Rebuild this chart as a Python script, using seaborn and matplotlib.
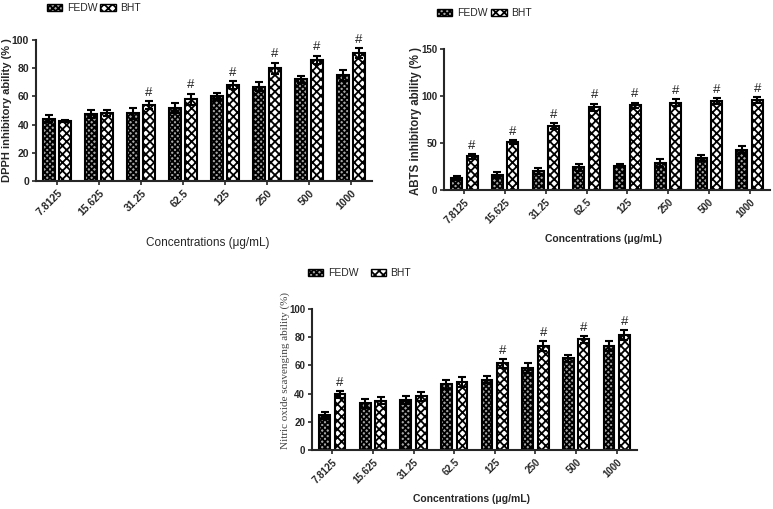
import numpy as np
import pandas as pd
import matplotlib
matplotlib.use("Agg")
import matplotlib.pyplot as plt
import matplotlib.patches as mpatches
import seaborn as sns

sns.set_style("ticks")
plt.rcParams['font.family'] = ['Liberation Sans', 'DejaVu Sans']
plt.rcParams['hatch.linewidth'] = 1.3

concentrations = ["7.8125", "15.625", "31.25", "62.5", "125", "250", "500", "1000"]
groups = ["FEDW", "BHT"]

dpph_fedw = [44, 47.5, 48, 52, 60, 67, 72, 75]
dpph_fedw_err = [2.5, 3, 4, 3.5, 2.5, 3.5, 2.5, 4]
dpph_bht = [42.5, 48, 54, 58, 68, 80, 86, 91]
dpph_bht_err = [1, 2, 3, 4, 3, 4, 3, 3.5]
dpph_sig = [False, False, True, True, True, True, True, True]

abts_fedw = [13, 16, 20, 24, 26, 29, 34, 43]
abts_fedw_err = [2, 3, 3, 4, 2, 4, 3, 4]
abts_bht = [36, 51, 68, 88, 90, 93, 95, 96]
abts_bht_err = [2.5, 2.5, 3, 4, 3, 4, 3, 3]
abts_sig = [True] * 8

no_fedw = [24.5, 33, 35.5, 46.5, 50, 58, 65, 73.5]
no_fedw_err = [2.5, 3, 3, 3.5, 2.5, 3.5, 2.5, 3.5]
no_bht = [39.5, 35, 38, 48.5, 61.5, 74, 78.5, 81.5]
no_bht_err = [2.5, 2.5, 3, 3.5, 3, 3.5, 2.5, 3.5]
no_sig = [True, False, False, False, True, True, True, True]

W, H = 773, 509
fig = plt.figure(figsize=(W / 100, H / 100), dpi=100)


def ax_at(x0, x1, ybottom, ytop):
    return fig.add_axes([x0 / W, 1 - ybottom / H, (x1 - x0) / W, (ybottom - ytop) / H])


styles = {
    "FEDW": dict(facecolor="#a8a8a8", hatch="xxxxxx"),
    "BHT": dict(facecolor="white", hatch="xxxx"),
}


def panel(ax, fedw, fedw_err, bht, bht_err, sig, ymax, yticks, ylabel, ylabel_kw,
          ylabel_xy, xlabel_kw, xlabel_xy, tick_kw, legend_xy, legend_colsp):
    df = pd.DataFrame({
        "conc": concentrations * 2,
        "group": ["FEDW"] * len(concentrations) + ["BHT"] * len(concentrations),
        "value": list(fedw) + list(bht),
    })
    sns.barplot(data=df, x="conc", y="value", hue="group", order=concentrations,
                hue_order=groups, width=0.76, gap=0.3, ax=ax, legend=False,
                edgecolor="black", linewidth=1.5, errorbar=None)
    errs = {"FEDW": fedw_err, "BHT": bht_err}
    for cont, g in zip(ax.containers, groups):
        xs, hs = [], []
        for bar in cont:
            bar.set_facecolor(styles[g]["facecolor"])
            bar.set_hatch(styles[g]["hatch"])
            bar.set_edgecolor("black")
            xs.append(bar.get_x() + bar.get_width() / 2)
            hs.append(bar.get_height())
        ax.errorbar(xs, hs, yerr=errs[g], fmt="none", ecolor="black",
                    elinewidth=1.5, capsize=3, capthick=1.5, zorder=3)
        if g == "BHT":
            for x, h, e, s in zip(xs, hs, errs[g], sig):
                if s:
                    ax.text(x, h + e + ymax * 0.015, "#", ha="center", va="bottom",
                            fontsize=9.5, color="#222222")
    ax.set_xlim(-0.5, len(concentrations) - 0.5)
    ax.set_ylim(0, ymax)
    ax.set_yticks(yticks)
    ax.set_yticklabels([str(t) for t in yticks], fontweight="bold", **tick_kw)
    ax.set_xticks(range(len(concentrations)))
    ax.set_xticklabels(concentrations, rotation=45, ha="right", rotation_mode="anchor",
                       fontweight="bold", **tick_kw)
    ax.set_ylabel(ylabel, **ylabel_kw)
    ax.yaxis.set_label_coords(*ylabel_xy)
    ax.set_xlabel("Concentrations (μg/mL)", **xlabel_kw)
    ax.xaxis.set_label_coords(*xlabel_xy)
    sns.despine(ax=ax)
    for sp in ["left", "bottom"]:
        ax.spines[sp].set_linewidth(1.5)
    ax.tick_params(axis="both", width=1.2, length=3, direction="out", pad=2)
    handles = [mpatches.Patch(facecolor=styles[g]["facecolor"], hatch=styles[g]["hatch"],
                              edgecolor="black", label=g) for g in groups]
    fig.legend(handles=handles, loc="center left",
               bbox_to_anchor=(legend_xy[0] / W, 1 - legend_xy[1] / H),
               ncol=2, frameon=False, fontsize=7.5, handlelength=1.45, handleheight=0.6,
               handletextpad=0.45, columnspacing=legend_colsp, borderaxespad=0,
               borderpad=0)


ax1 = ax_at(36, 372, 181, 40)
panel(ax1, dpph_fedw, dpph_fedw_err, dpph_bht, dpph_bht_err, dpph_sig, 100,
      [0, 20, 40, 60, 80, 100], "DPPH inhibitory ability (% )",
      dict(fontsize=8, fontweight="bold"), (-0.071, 0.5),
      dict(fontsize=8.5), (0.51, -0.40),
      dict(fontsize=7.5), (47, 8), 0.3)

ax2 = ax_at(444, 770, 190, 49)
panel(ax2, abts_fedw, abts_fedw_err, abts_bht, abts_bht_err, abts_sig, 150,
      [0, 50, 100, 150], "ABTS inhibitory ability (% )",
      dict(fontsize=8.3, fontweight="bold"), (-0.067, 0.49),
      dict(fontsize=7.5, fontweight="bold"), (0.49, -0.31),
      dict(fontsize=7, family=["Liberation Sans Narrow", "Liberation Sans"]),
      (437, 13), 0.4)

ax3 = ax_at(312, 637, 450, 309)
panel(ax3, no_fedw, no_fedw_err, no_bht, no_bht_err, no_sig, 100,
      [0, 20, 40, 60, 80, 100], "Nitric oxide scavenging ability (%)",
      dict(fontsize=8, family=["Liberation Serif", "DejaVu Serif"], color="#444444"),
      (-0.068, 0.567),
      dict(fontsize=7.5, fontweight="bold"), (0.49, -0.31),
      dict(fontsize=7, family=["Liberation Sans Narrow", "Liberation Sans"]),
      (308, 273), 1.2)

fig.savefig("out.png", dpi=100)
